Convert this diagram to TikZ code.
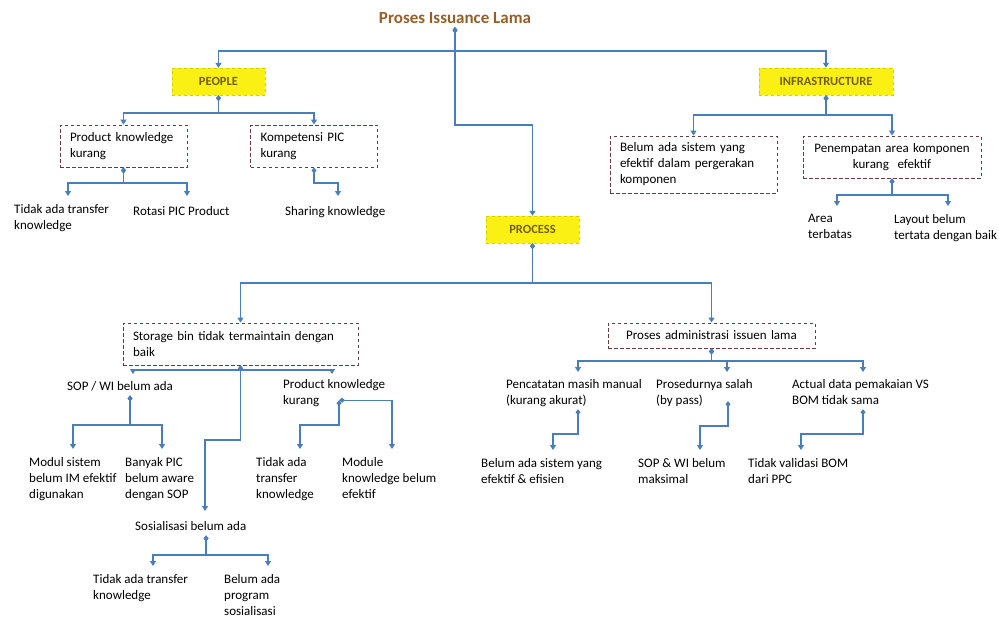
\documentclass[tikz,border=0pt]{standalone}
\usepackage{fontspec}
\setmainfont{Carlito}
\usetikzlibrary{arrows.meta}

\definecolor{linkblue}{RGB}{74,126,187}
\definecolor{boxred}{RGB}{105,60,60}
\definecolor{titlebrown}{RGB}{150,95,40}
\definecolor{catyellow}{RGB}{250,240,20}
\definecolor{catolive}{RGB}{115,95,20}

\tikzset{
  conn/.style={draw=linkblue, line width=1.4pt,
    {Diamond[length=6pt,width=5pt]}-{Triangle[length=5pt,width=6pt]}},
  cat/.style={fill=catyellow, draw=catyellow!85!black, dashed,
    font=\fontsize{12.5}{14}\selectfont\bfseries, text=catolive,
    minimum width=93pt, minimum height=27pt},
  cause/.style={draw=boxred, dash pattern=on 3.5pt off 2.5pt, line width=0.9pt,
    font=\fontsize{13}{16}\selectfont, align=left, inner xsep=10pt,
    minimum height=42pt},
  txt/.style={anchor=north west, inner sep=0pt, align=left,
    font=\fontsize{13}{16}\selectfont, execute at begin node=\strut}
}

\begin{document}
\begin{tikzpicture}[x=1pt,y=-1pt]
\useasboundingbox (0,0) rectangle (999,622);

\node[font=\fontsize{17}{20}\selectfont\bfseries, text=titlebrown] (title) at (455,18) {Proses Issuance Lama};

\node[cat] (people) at (218.5,81.5) {PEOPLE};
\node[cat, minimum width=134pt] (infra) at (826,81.5) {INFRASTRUCTURE};
\node[cat] (process) at (532.5,229.5) {PROCESS};

\node[cause, text width=107pt] (pkA) at (123.5,146) {Product knowledge\\kurang};
\node[cause, text width=107pt] (kpc) at (314,146) {Kompetensi PIC\\kurang};
\node[cause, text width=147pt, minimum height=57pt] (bas) at (693.5,164.5) {Belum ada sistem yang\\efektif dalam pergerakan\\komponen};
\node[cause, text width=158pt, align=center] (pak) at (892,157) {Penempatan area komponen\\kurang\ \ efektif};
\node[cause, text width=215pt] (stor) at (240.5,344) {Storage bin tidak termaintain dengan\\baik};
\node[cause, text width=187pt, align=center, minimum height=25pt] (adm) at (711.5,335.5) {Proses administrasi issuen lama};

\node[txt] (tatk1) at (14,204) {Tidak ada transfer\\knowledge};
\node[txt] (rpp) at (133,204) {Rotasi PIC Product};
\node[txt] (shk) at (285,204) {Sharing knowledge};
\node[txt] (area) at (808,214) {Area\\terbatas};
\node[txt] (layout) at (894,214) {Layout belum\\tertata dengan baik};
\node[txt] (sop) at (67,379) {SOP / WI belum ada};
\node[txt] (pkB) at (283,379) {Product knowledge\\kurang};
\node[txt] (modul) at (29,457) {Modul sistem\\belum IM efektif\\digunakan};
\node[txt] (banyak) at (125,457) {Banyak PIC\\belum aware\\dengan SOP};
\node[txt] (tatk2) at (256,457) {Tidak ada\\transfer\\knowledge};
\node[txt] (module) at (342,457) {Module\\knowledge belum\\efektif};
\node[txt] (sos) at (135,519) {Sosialisasi belum ada};
\node[txt] (tatk3) at (93,574) {Tidak ada transfer\\knowledge};
\node[txt] (bap) at (224,574) {Belum ada\\program\\sosialisasi};
\node[txt] (pencat) at (506,379) {Pencatatan masih manual\\(kurang akurat)};
\node[txt] (prosed) at (656,379) {Prosedurnya salah\\(by pass)};
\node[txt] (actual) at (792,379) {Actual data pemakaian VS\\BOM tidak sama};
\node[txt] (basy) at (481,458) {Belum ada sistem yang\\efektif \& efisien};
\node[txt] (sopwi) at (638,458) {SOP \& WI belum\\maksimal};
\node[txt] (tvb) at (748,458) {Tidak validasi BOM\\dari PPC};

\coordinate (tj) at (455,51);
\coordinate (tk) at (455,125);
\coordinate (pj) at (218.5,113);
\coordinate (ij) at (826,115);
\coordinate (pkj) at (123.5,183);
\coordinate (kpj) at (314,183);
\coordinate (paj) at (892,195);
\coordinate (prj) at (532.5,283);
\coordinate (stj) at (240.5,370);
\coordinate (ssj) at (240.5,440);
\coordinate (soj) at (130,425);
\coordinate (pkd) at ([shift={(56pt,9pt)}]pkB.south west);
\coordinate (pkk) at (339,425);
\coordinate (soc) at (206,555);
\coordinate (adj) at (711.5,361);
\coordinate (pcj) at (578,434);
\coordinate (psd) at ([shift={(72pt,8pt)}]prosed.south west);
\coordinate (psj) at (728,426);
\coordinate (acj) at (863,434);

\draw[conn] (title.south) |- (tj) -| (people.north);
\draw[conn] (title.south) |- (tj) -| (infra.north);
\draw[conn] (title.south) |- (tk) -| (process.north);

\draw[conn] (people.south) |- (pj) -| (pkA.north);
\draw[conn] (people.south) |- (pj) -| (kpc.north);
\draw[conn] (pkA.south) |- (pkj) -| ([shift={(54pt,8pt)}]tatk1.north west);
\draw[conn] (pkA.south) |- (pkj) -| ([shift={(54pt,8pt)}]rpp.north west);
\draw[conn] (kpc.south) |- (kpj) -| ([shift={(53pt,8pt)}]shk.north west);

\draw[conn] (infra.south) |- (ij) -| (bas.north);
\draw[conn] (infra.south) |- (ij) -| (pak.north);
\draw[conn] (pak.south) |- (paj) -| ([shift={(29pt,8pt)}]area.north west);
\draw[conn] (pak.south) |- (paj) -| ([shift={(54pt,8pt)}]layout.north west);

\draw[conn] (process.south) |- (prj) -| (stor.north);
\draw[conn] (process.south) |- (prj) -| (adm.north);

\draw[conn] (stor.south) |- (stj) -| ([shift={(66pt,5pt)}]sop.north west);
\draw[conn] (stor.south) |- (stj) -| ([shift={(49pt,5pt)}]pkB.north west);
\draw[conn] (stor.south) |- (ssj) -| ([shift={(70pt,8pt)}]sos.north west);
\draw[conn] ([xshift=63pt]sop.south west) |- (soj) -| ([shift={(44pt,8pt)}]modul.north west);
\draw[conn] ([xshift=63pt]sop.south west) |- (soj) -| ([shift={(37pt,8pt)}]banyak.north west);
\draw[conn] (pkd) -| ([shift={(50pt,8pt)}]module.north west);
\draw[conn] (pkd) |- (pkk) -| ([shift={(44pt,8pt)}]tatk2.north west);
\draw[conn] ([xshift=71pt]sos.south west) |- (soc) -| ([shift={(60pt,8pt)}]tatk3.north west);
\draw[conn] ([xshift=71pt]sos.south west) |- (soc) -| ([shift={(44pt,8pt)}]bap.north west);

\draw[conn] (adm.south) |- (adj) -| ([shift={(72pt,7pt)}]pencat.north west);
\draw[conn] (adm.south) |- (adj) -| ([shift={(71pt,7pt)}]prosed.north west);
\draw[conn] (adm.south) |- (adj) -| ([shift={(71pt,7pt)}]actual.north west);
\draw[conn] ([xshift=72pt]pencat.south west) |- (pcj) -| ([shift={(72pt,8pt)}]basy.north west);
\draw[conn] (psd) |- (psj) -| ([shift={(62pt,8pt)}]sopwi.north west);
\draw[conn] ([xshift=71pt]actual.south west) |- (acj) -| ([shift={(53pt,8pt)}]tvb.north west);
\end{tikzpicture}
\end{document}
